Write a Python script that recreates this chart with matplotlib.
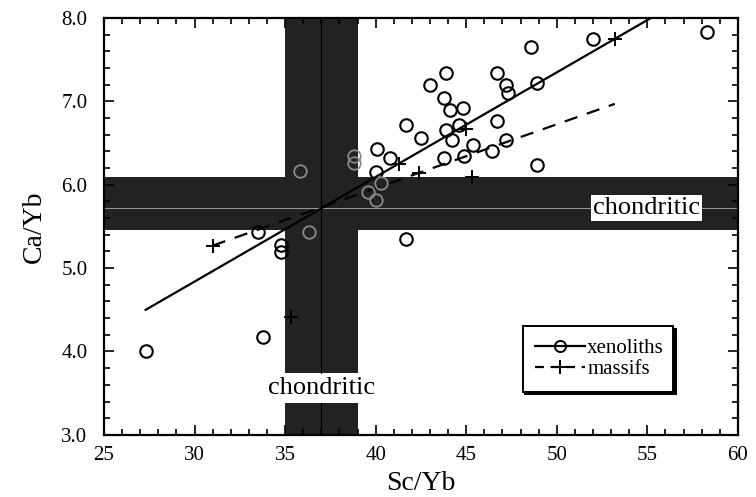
import matplotlib
matplotlib.use("Agg")
import matplotlib.pyplot as plt
import numpy as np
from matplotlib.ticker import MultipleLocator, FormatStrFormatter

plt.rcParams['font.family'] = ['Liberation Serif', 'DejaVu Serif']

# xenoliths (open circles)
xeno_sc = [27.3, 33.8, 33.5, 34.8, 34.8, 35.8, 36.3, 38.8, 38.8, 39.6,
           40.0, 40.0, 40.1, 40.3, 40.8, 41.7, 41.7, 42.5, 43.0, 43.9,
           43.8, 44.1, 44.8, 43.9, 44.6, 44.2, 45.4, 43.8, 44.9, 46.7,
           47.2, 47.3, 46.7, 46.4, 47.2, 48.6, 48.9, 48.9, 52.0, 58.3]
xeno_ca = [4.00, 4.17, 5.43, 5.28, 5.19, 6.16, 5.43, 6.34, 6.26, 5.91,
           5.82, 6.15, 6.43, 6.02, 6.32, 6.72, 5.35, 6.56, 7.20, 7.34,
           7.04, 6.90, 6.92, 6.66, 6.72, 6.54, 6.48, 6.32, 6.35, 7.34,
           7.20, 7.10, 6.76, 6.40, 6.54, 7.65, 7.22, 6.24, 7.75, 7.83]

# massifs (plus)
mass_sc = [31.0, 35.3, 41.3, 42.4, 45.0, 45.3, 53.2]
mass_ca = [5.27, 4.41, 6.25, 6.14, 6.67, 6.09, 7.75]

# regression lines (end points)
xeno_fit_x = [27.3, 55.2]
xeno_fit_y = [4.50, 8.00]
mass_fit_x = [31.0, 53.2]
mass_fit_y = [5.27, 6.97]

# chondritic ranges (low, high, centre)
chon_sc = (35.0, 39.0, 37.0)
chon_ca = (5.46, 6.09, 5.72)
label_gap = (3.38, 3.74)

band = '#222222'

fig = plt.figure(figsize=(7.56, 4.97), dpi=100)
ax = fig.add_axes([0.1376, 0.125, 0.8384, 0.8388])

# shaded chondritic bands
ax.axhspan(chon_ca[0], chon_ca[1], color=band, lw=0, zorder=1)
ax.fill_betweenx([3.0, label_gap[0]], chon_sc[0], chon_sc[1], color=band, lw=0, zorder=1)
ax.fill_betweenx([label_gap[1], 8.0], chon_sc[0], chon_sc[1], color=band, lw=0, zorder=1)
ax.axhline(chon_ca[2], color='#9a9a9a', lw=0.7, zorder=1.5)
ax.plot([chon_sc[2], chon_sc[2]], [3.0, label_gap[0]], color='#000000', lw=0.8, zorder=1.5)
ax.plot([chon_sc[2], chon_sc[2]], [label_gap[1], 8.0], color='#000000', lw=0.8, zorder=1.5)

ax.text(chon_sc[2], (label_gap[0] + label_gap[1]) / 2, 'chondritic', fontsize=19,
        ha='center', va='center', zorder=3)
ax.text(54.95, chon_ca[2], 'chondritic', fontsize=19, ha='center', va='center', zorder=3,
        bbox=dict(facecolor='white', edgecolor='none', pad=1.5))

# fit lines
ax.plot(xeno_fit_x, xeno_fit_y, color='black', lw=1.6, zorder=2)
ax.plot(mass_fit_x, mass_fit_y, color='black', lw=1.6, dashes=(6, 4.5), zorder=2)

# points; the ones lying on the dark bands show up grey
xs, ys = np.array(xeno_sc), np.array(xeno_ca)
on_band = ((xs > chon_sc[0]) & (xs < chon_sc[1])) | ((ys > chon_ca[0]) & (ys < chon_ca[1]))
ax.plot(xs[~on_band], ys[~on_band], 'o', ms=9, mfc='none', mec='black', mew=1.5, zorder=2.5)
ax.plot(xs[on_band], ys[on_band], 'o', ms=9, mfc='none', mec='#8a8a8a', mew=1.3, zorder=2.5)
ax.plot(mass_sc, mass_ca, '+', ms=10, mec='black', mew=1.4, zorder=2.5)

# legend proxies
ax.plot([], [], '-o', color='black', lw=1.6, ms=8, mfc='none', mew=1.4, label='xenoliths')
ax.plot([], [], '--+', color='black', lw=1.6, ms=10, mew=1.4, dashes=(4, 3), label='massifs')
leg = ax.legend(loc='lower left', bbox_to_anchor=(0.644, 0.079, 0.27, 0.15), mode='expand',
                fontsize=15, frameon=True, fancybox=False, handlelength=2.4,
                handletextpad=0.1, borderpad=0.6, labelspacing=0.05,
                shadow={'color': 'black', 'alpha': 1})
leg.get_frame().set_edgecolor('black')
leg.get_frame().set_linewidth(1.4)

ax.set_xlim(25, 60)
ax.set_ylim(3.0, 8.0)
ax.xaxis.set_major_locator(MultipleLocator(5))
ax.xaxis.set_minor_locator(MultipleLocator(1))
ax.yaxis.set_major_locator(MultipleLocator(1))
ax.yaxis.set_minor_locator(MultipleLocator(0.2))
ax.yaxis.set_major_formatter(FormatStrFormatter('%.1f'))
ax.tick_params(which='both', direction='in', top=True, right=True, labelsize=15, width=1.2)
ax.tick_params(which='major', length=7)
ax.tick_params(which='minor', length=4)
ax.tick_params(axis='x', which='major', pad=8)
ax.tick_params(axis='y', which='major', pad=12)
for s in ax.spines.values():
    s.set_linewidth(1.6)

ax.set_xlabel('Sc/Yb', fontsize=20, labelpad=4)
ax.set_ylabel('Ca/Yb', fontsize=20, labelpad=10)

fig.savefig('out.png', dpi=100)
